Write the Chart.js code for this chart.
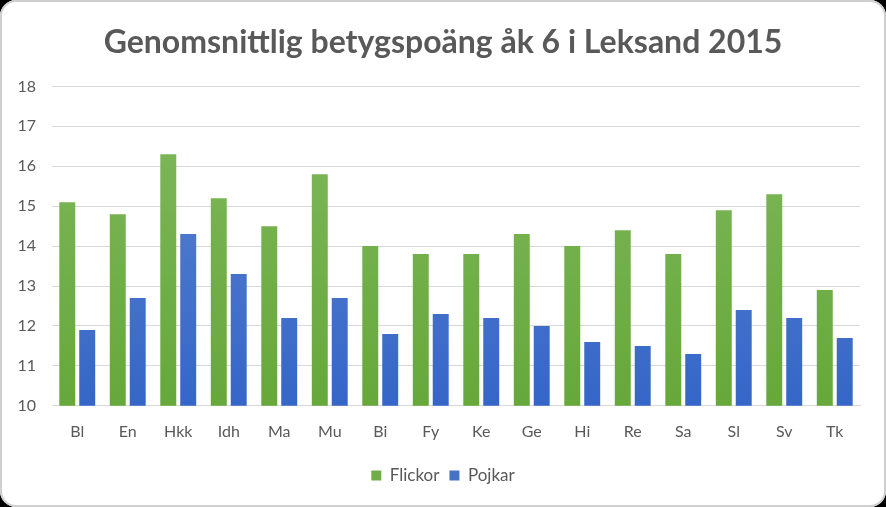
<!DOCTYPE html>
<html>
<head>
<meta charset="utf-8">
<script src="https://cdn.jsdelivr.net/npm/chart.js@4"></script>
<style>
html,body{margin:0;padding:0;background:#000;}
#wrap{position:absolute;left:0;top:0;width:886px;height:507px;}
#bg{position:absolute;left:0;top:0;width:886px;height:507px;background:#fff;border-radius:16px;}
#frame{position:absolute;left:0;top:0;width:886px;height:507px;box-sizing:border-box;border:2px solid #cfcfcf;border-radius:16px;pointer-events:none;}
#c{position:absolute;left:0;top:0;}
</style>
</head>
<body>
<div id="wrap">
<div id="bg"></div>
<canvas id="c" width="886" height="507"></canvas>
<div id="frame"></div>
</div>
<script>
const titleText = "Genomsnittlig betygspoäng åk 6 i Leksand 2015";
const categories = ["Bl","En","Hkk","Idh","Ma","Mu","Bi","Fy","Ke","Ge","Hi","Re","Sa","Sl","Sv","Tk"];
const seriesNames = ["Flickor","Pojkar"];
const flickor = [15.1,14.8,16.3,15.2,14.5,15.8,14.0,13.8,13.8,14.3,14.0,14.4,13.8,14.9,15.3,12.9];
const pojkar  = [11.9,12.7,14.3,13.3,12.2,12.7,11.8,12.3,12.2,12.0,11.6,11.5,11.3,12.4,12.2,11.7];
const yMin = 10, yMax = 18, yStep = 1;

const FONT = "Lato, 'Open Sans', sans-serif";
const TXT = "#595959";

function grad(top, bottom){
  return function(ctx){
    const ca = ctx.chart.chartArea;
    if(!ca) return bottom;
    const g = ctx.chart.ctx.createLinearGradient(0, ca.top, 0, ca.bottom);
    g.addColorStop(0, top);
    g.addColorStop(1, bottom);
    return g;
  };
}

new Chart(document.getElementById('c'), {
  type: 'bar',
  data: {
    labels: categories,
    datasets: [
      {label: seriesNames[0], data: flickor, backgroundColor: grad('#80b95e','#66a83a'), borderWidth:0},
      {label: seriesNames[1], data: pojkar, backgroundColor: grad('#5d86cf','#3566c8'), borderWidth:0}
    ]
  },
  options: {
    responsive: false,
    animation: false,
    devicePixelRatio: 1,
    layout: {padding: {left: 0, right: 0, top: 0, bottom: 13}},
    datasets: {bar: {categoryPercentage: 0.79, barPercentage: 0.8}},
    plugins: {
      title: {display: true, text: titleText, color: TXT,
        font: {family: FONT, size: 32, weight: 'bold'}, padding: {top: 23, bottom: 25}},
      legend: {position: 'bottom',
        labels: {color: TXT, font: {family: FONT, size: 17}, boxWidth: 10, boxHeight: 10, padding: 10,
          generateLabels: function(chart){
            const cols = ['#70ad47','#4472c4'];
            return chart.data.datasets.map((d,i)=>({text:d.label, fillStyle:cols[i], strokeStyle:cols[i], lineWidth:0, datasetIndex:i, fontColor:TXT}));
          }}},
      tooltip: {enabled: false}
    },
    scales: {
      x: {
        grid: {display: false, drawTicks: false},
        border: {display: true, color: '#d9d9d9', width: 1},
        ticks: {color: TXT, font: {family: FONT, size: 16}, padding: 16}
      },
      y: {
        min: yMin, max: yMax,
        grid: {color: '#d9d9d9', drawTicks: false},
        border: {display: false},
        ticks: {stepSize: yStep, color: TXT, font: {family: FONT, size: 16}, padding: 16},
        afterFit: function(s){ s.width = 52; }
      },
      yRight: {
        position: 'right',
        min: yMin, max: yMax,
        grid: {display: false, drawTicks: false},
        border: {display: false},
        ticks: {display: false},
        afterFit: function(s){ s.width = 26; }
      }
    }
  }
});
</script>
</body>
</html>
